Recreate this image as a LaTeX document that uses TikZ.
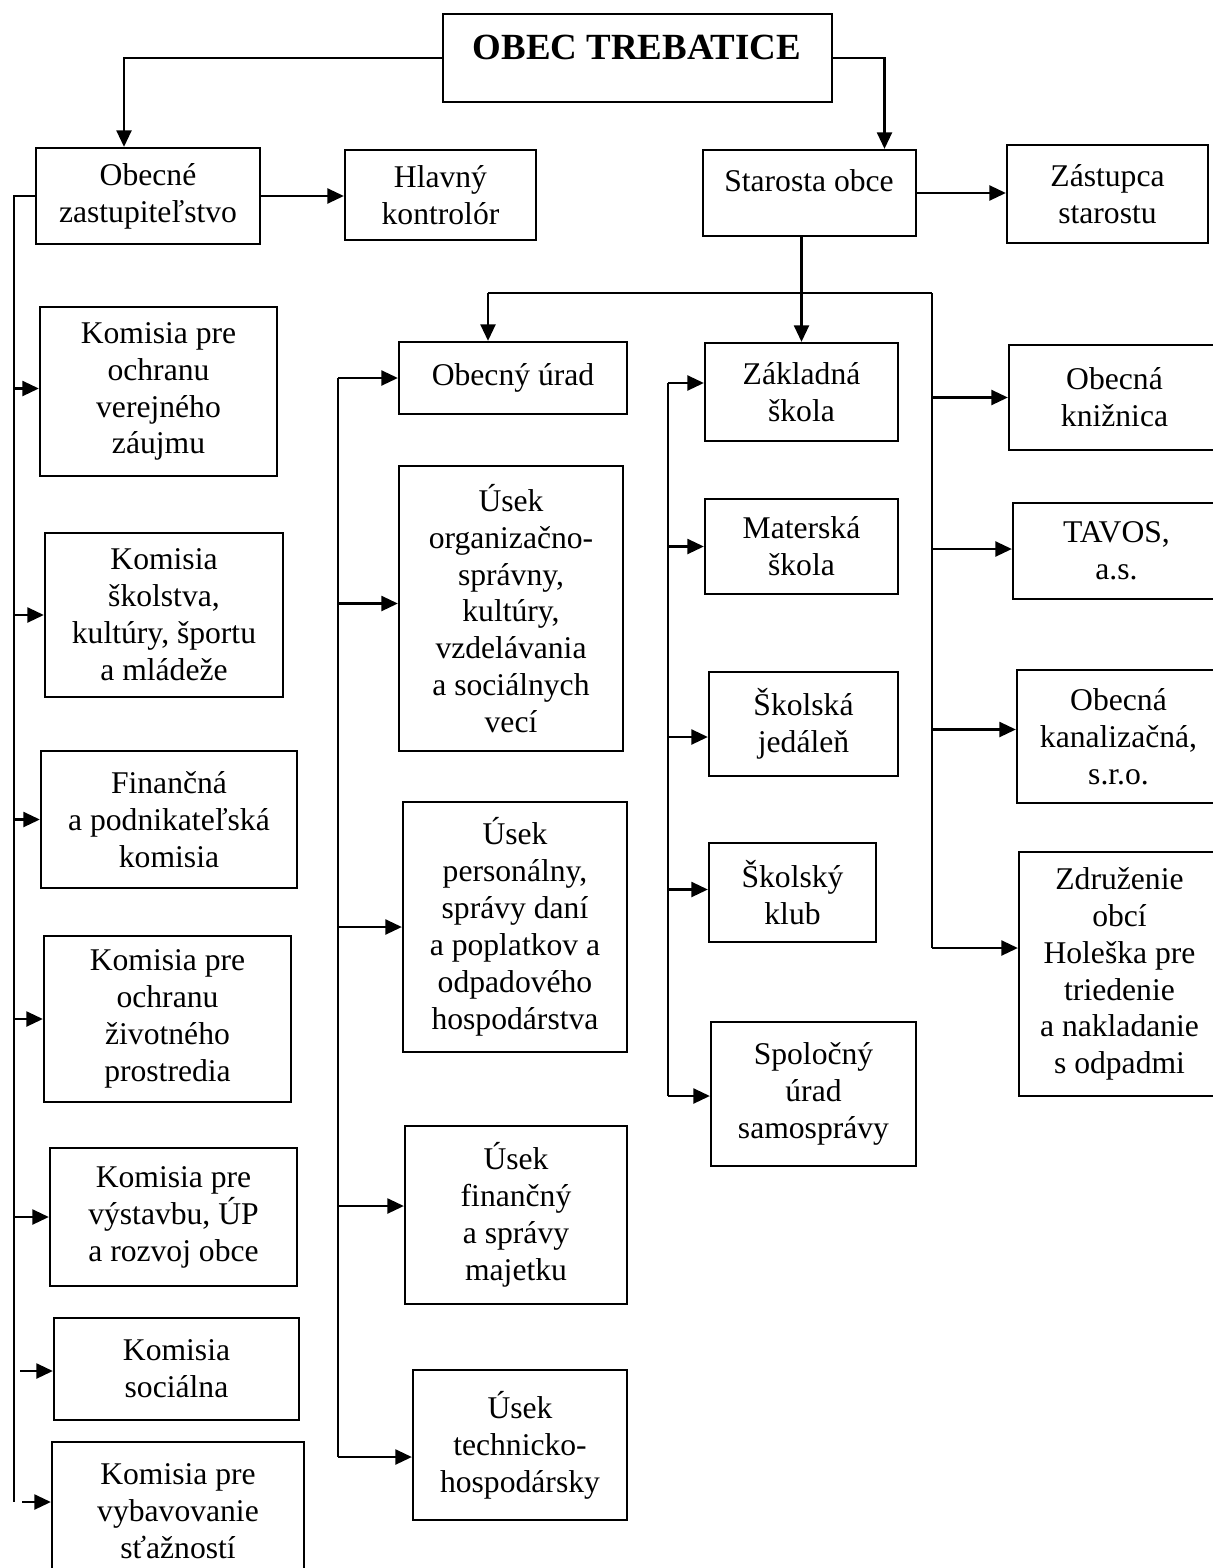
\documentclass[tikz,border=0pt]{standalone}
\usepackage{fontspec}
\setmainfont{Liberation Serif}
\usetikzlibrary{arrows.meta,calc}
\tikzset{
  box/.style={draw, line width=1.3pt, rectangle, align=center, inner sep=1pt,
    font=\fontsize{18}{21}\selectfont},
  txt/.style={align=center, inner sep=0pt, font=\fontsize{18}{21}\selectfont},
  conn/.style={line width=1.3pt},
  arr/.style={line width=1.3pt, -{Triangle[length=0.33cm,width=0.3cm]}},
}
\newcommand\bx[6]{%
  \pgfmathsetmacro\bw{(#4-#2)*0.02}%
  \pgfmathsetmacro\bh{(#5-#3)*0.02}%
  \node[box, minimum width=\bw cm, minimum height=\bh cm] (#1) at ({(#2+#4)/2},{(#3+#5)/2}) {#6};}
\newcommand\feed[3]{%
  \coordinate (tmp) at ([yshift=#3]#2.west);
  \draw[arr] (tmp -| #1) -- (tmp);}
\begin{document}
\begin{tikzpicture}[x=0.02cm,y=-0.02cm]
\useasboundingbox (0,0) rectangle (1213,1568);
% top
\bx{title}{443}{14}{832}{102}{}
\node[txt, font=\fontsize{21}{24}\selectfont\bfseries] (title-t) at (637,47) {OBEC TREBATICE};
\bx{oz}{36}{148}{260}{244}{Obecné\\zastupiteľstvo}
\bx{hk}{345}{150}{536}{240}{Hlavný\\kontrolór}
\bx{stara}{703}{150}{916}{236}{}
\node[txt] (stara-t) at (809,181) {Starosta obce};
\bx{zast}{1007}{145}{1208}{243}{Zástupca\\starostu}
% left column
\bx{k1}{40}{307}{277}{476}{Komisia pre\\ochranu\\verejného\\záujmu}
\bx{k2}{45}{533}{283}{697}{Komisia\\školstva,\\kultúry, športu\\a mládeže}
\bx{fin}{41}{751}{297}{888}{Finančná\\a podnikateľská\\komisia}
\bx{zp}{44}{936}{291}{1102}{Komisia pre\\ochranu\\životného\\prostredia}
\bx{vys}{50}{1148}{297}{1286}{Komisia pre\\výstavbu, ÚP\\a rozvoj obce}
\bx{soc}{54}{1318}{299}{1420}{Komisia\\sociálna}
\bx{vyb}{52}{1442}{304}{1580}{Komisia pre\\vybavovanie\\sťažností}
% middle column
\bx{ou}{399}{342}{627}{414}{Obecný úrad}
\bx{uo}{399}{466}{623}{751}{Úsek\\organizačno-\\správny,\\kultúry,\\vzdelávania\\a sociálnych\\vecí}
\bx{up}{403}{802}{627}{1052}{Úsek\\personálny,\\správy daní\\a poplatkov a\\odpadového\\hospodárstva}
\bx{uf}{405}{1126}{627}{1304}{Úsek\\finančný\\a správy\\majetku}
\bx{ut}{413}{1370}{627}{1520}{Úsek\\technicko-\\hospodársky}
% schools column
\bx{zs}{705}{343}{898}{441}{Základná\\škola}
\bx{ms}{705}{499}{898}{594}{Materská\\škola}
\bx{sj}{709}{672}{898}{776}{Školská\\jedáleň}
\bx{sk}{709}{843}{876}{942}{Školský\\klub}
\bx{su}{711}{1022}{916}{1166}{Spoločný\\úrad\\samosprávy}
% right column
\bx{kn}{1009}{345}{1220}{450}{Obecná\\knižnica}
\bx{tav}{1013}{503}{1220}{599}{TAVOS,\\a.s.}
\bx{kan}{1017}{670}{1220}{803}{Obecná\\kanalizačná,\\s.r.o.}
\bx{zdr}{1019}{852}{1220}{1096}{Združenie\\obcí\\Holeška pre\\triedenie\\a nakladanie\\s odpadmi}
% top connectors
\draw[arr] (title.west) -| ($(oz.north)+(-24,0)$);
\draw[arr] (title.east) -| ($(stara.north)+(75,0)$);
\draw[arr] (oz.east) -- (oz.east -| hk.west);
\draw[arr] (stara.east) -- (stara.east -| zast.west);
% starosta distribution
\coordinate (j1) at (488,293);
\coordinate (j2) at (932,293);
\draw[conn] (j1) -- (j2);
\draw[arr] (stara.south -| zs.north) -- (zs.north);
\draw[arr] (j1) -- (j1 |- ou.north);
% left bus
\coordinate (lb) at (14,1502);
\draw[conn] (oz.west) -| (lb);
\feed{lb}{k1}{0.06cm}
\feed{lb}{k2}{0cm}
\feed{lb}{fin}{0cm}
\feed{lb}{zp}{0cm}
\feed{lb}{vys}{0cm}
\coordinate (s1) at (20,1371);
\draw[arr] (s1) -- (s1 -| soc.west);
\coordinate (s2) at (22,1502);
\draw[arr] (s2) -- (s2 -| vyb.west);
% middle bus
\coordinate (mt) at (338,378);
\coordinate (mb) at (338,1457);
\draw[conn] (mt) -- (mb);
\feed{mt}{ou}{0cm}
\feed{mt}{uo}{0.1cm}
\feed{mt}{up}{0cm}
\feed{mt}{uf}{0.18cm}
\draw[arr] (mb) -- (mb -| ut.west);
% schools bus
\coordinate (st) at (668,383);
\coordinate (sb) at (668,1096);
\draw[conn] (st) -- (sb);
\draw[arr] (st) -- (st -| zs.west);
\feed{st}{ms}{0cm}
\feed{st}{sj}{-0.26cm}
\feed{st}{sk}{0.06cm}
\draw[arr] (sb) -- (sb -| su.west);
% right bus
\coordinate (rb) at (932,948);
\draw[conn] (j2) -- (rb);
\feed{rb}{kn}{0cm}
\feed{rb}{tav}{0.04cm}
\feed{rb}{kan}{0.14cm}
\draw[arr] (rb) -- (rb -| zdr.west);
\end{tikzpicture}
\end{document}
